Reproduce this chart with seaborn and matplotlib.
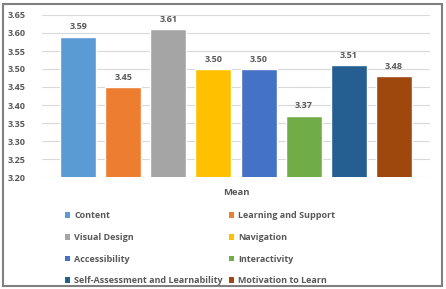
import matplotlib
matplotlib.use("Agg")
import matplotlib.pyplot as plt
import seaborn as sns
from matplotlib.patches import Patch

categories = ["Content", "Learning and Support", "Visual Design", "Navigation",
              "Accessibility", "Interactivity", "Self-Assessment and Learnability",
              "Motivation to Learn"]
values = [3.59, 3.45, 3.61, 3.50, 3.50, 3.37, 3.51, 3.48]
colors = ["#5B9BD5", "#ED7D31", "#A5A5A5", "#FFC000",
          "#4472C4", "#70AD47", "#255E91", "#9E480E"]
yticks = [3.20, 3.25, 3.30, 3.35, 3.40, 3.45, 3.50, 3.55, 3.60, 3.65]

sns.set_style("white")
plt.rcParams['font.family'] = ['Open Sans', 'DejaVu Sans']

fig = plt.figure(figsize=(4.46, 2.89), dpi=100)
ax = fig.add_axes([42/446, 1-177/289, (430-42)/446, (177-15)/289])

sns.barplot(x=categories, y=values, hue=categories, palette=colors,
            dodge=False, legend=False, ax=ax, width=0.8, saturation=1)

ax.set_ylim(3.20, 3.65)
ax.set_xlim(-0.8, 7.8)
ax.set_yticks(yticks)
ax.set_yticklabels([f"{t:.2f}" for t in yticks], fontsize=6.5, fontweight='bold', color='#595959')
ax.set_xticks([])
ax.set_xlabel("Mean", fontsize=6.8, fontweight='bold', color='#595959', labelpad=8)
ax.set_ylabel("")
ax.grid(axis='y', color='#D9D9D9', linewidth=0.8)
ax.set_axisbelow(True)
for s in ax.spines.values():
    s.set_visible(False)
ax.tick_params(axis='y', length=0, pad=12)

for i, v in enumerate(values):
    ax.text(i, v + 0.015, f"{v:.2f}", ha='center', va='bottom', fontsize=6.5,
            fontweight='bold', color='#595959')

handles = [Patch(facecolor=c, edgecolor='none') for c in colors]
prop = {'size': 6.5, 'weight': 'bold'}
common = dict(loc='upper left', frameon=False, prop=prop, labelcolor='#595959',
              handlelength=0.6, handleheight=0.6, handletextpad=0.4,
              labelspacing=1.42, borderaxespad=0, borderpad=0)
leg1 = fig.legend(handles[0::2], categories[0::2], bbox_to_anchor=(65/446, 1-211/289), **common)
leg2 = fig.legend(handles[1::2], categories[1::2], bbox_to_anchor=(229/446, 1-211/289), **common)

fig.patches.append(plt.Rectangle((3/446, 3/289), 439/446, 282/289, transform=fig.transFigure,
                                 fill=False, edgecolor='#7F7F7F', linewidth=1.5))

fig.savefig("out.png", dpi=100)
